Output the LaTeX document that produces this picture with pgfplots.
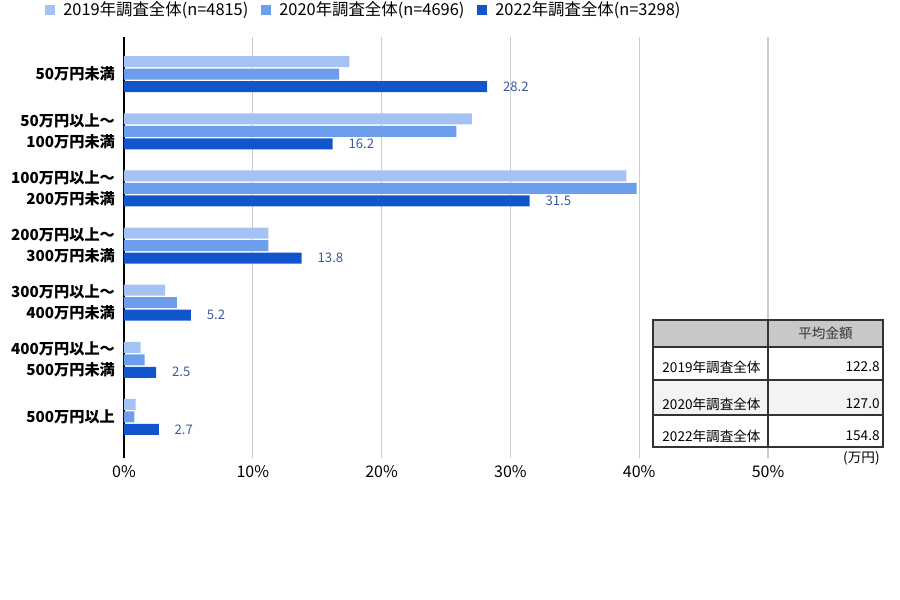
\documentclass[border=0pt]{standalone}
\usepackage{fontspec}
\setmainfont{Noto Sans CJK JP}
\usepackage{pgfplots}
\usepackage{pgfplotstable}
\pgfplotsset{compat=1.18}

\definecolor{c19}{HTML}{A4C2F4}
\definecolor{c20}{HTML}{6D9EEB}
\definecolor{c22}{HTML}{1155CC}
\definecolor{lbl}{HTML}{3D5A9E}
\definecolor{gridc}{HTML}{CCCCCC}
\definecolor{hdr}{HTML}{C8C8C8}
\definecolor{rowg}{HTML}{F3F3F3}

% share of respondents (%), categories top to bottom
\pgfplotstableread{
cat y2019 y2020 y2022
0 17.5 16.7 28.2
1 27.0 25.8 16.2
2 39.0 39.8 31.5
3 11.2 11.2 13.8
4 3.2 4.1 5.2
5 1.3 1.6 2.5
6 0.9 0.8 2.7
}\data

\begin{document}
\begin{tikzpicture}
\path[use as bounding box] (0,0) rectangle (450pt,300pt);
\begin{axis}[
    at={(62pt,71pt)}, anchor=south west,
    scale only axis, width=322pt, height=210.5pt,
    xbar, bar width=5.5pt,
    y dir=reverse,
    xmin=0, xmax=50, ymin=-0.65, ymax=6.72,
    ytick={0,...,6},
    yticklabels={50万円未満, {50万円以上～\\100万円未満}, {100万円以上～\\200万円未満},
        {200万円以上～\\300万円未満}, {300万円以上～\\400万円未満},
        {400万円以上～\\500万円未満}, 500万円以上},
    yticklabel style={align=right, xshift=-1pt, font=\bfseries\fontsize{7.6}{10.5}\selectfont},
    xtick={0,10,...,50},
    xticklabel={\pgfmathprintnumber{\tick}\%},
    xticklabel style={font=\fontsize{8}{10}\selectfont},
    /pgf/number format/assume math mode=true,
    xmajorgrids, grid style={gridc, line width=0.6pt},
    extra x ticks={0}, extra x tick labels={},
    extra x tick style={grid style={black, line width=0.6pt}},
    axis line style={draw=none},
    major tick length=0pt,
    legend style={at={(-0.1227,1.064)}, anchor=west, draw=none, fill=none,
        inner sep=0pt, font=\fontsize{8.2}{10}\selectfont,
        /tikz/every even column/.append style={column sep=4.5pt}},
    legend columns=3,
    legend image code/.code={\fill[#1] (0pt,-2.5pt) rectangle (5pt,2.5pt); \path (7pt,0pt);},
]
\addplot[fill=c19, draw=none, bar shift=6.25pt] table[x=y2019, y=cat] {\data};
\addplot[fill=c20, draw=none, bar shift=0pt] table[x=y2020, y=cat] {\data};
\addplot[fill=c22, draw=none, bar shift=-6.25pt, point meta=x,
    nodes near coords={\pgfmathprintnumber[fixed,fixed zerofill,precision=1]{\pgfplotspointmeta}},
    every node near coord/.append style={font=\fontsize{6.6}{8}\selectfont, text=lbl, xshift=4.4pt}]
    table[x=y2022, y=cat] {\data};
\legend{2019年調査全体(n=4815), 2020年調査全体(n=4696), 2022年調査全体(n=3298)}
\end{axis}

% average amount table
\fill[white] (326.5pt,76.5pt) rectangle (441.5pt,140pt);
\fill[hdr] (326.5pt,126.5pt) rectangle (441.5pt,140pt);
\fill[rowg] (326.5pt,92.5pt) rectangle (441.5pt,110pt);
\draw[line width=0.6pt, black!80] (326.5pt,76.5pt) rectangle (441.5pt,140pt);
\draw[line width=0.6pt, black!80] (326.5pt,126.5pt) -- (441.5pt,126.5pt)
    (326.5pt,110pt) -- (441.5pt,110pt)
    (326.5pt,92.5pt) -- (441.5pt,92.5pt)
    (384pt,76.5pt) -- (384pt,140pt);
\begin{scope}[every node/.style={font=\fontsize{6.8}{8}\selectfont, inner sep=0pt}]
\node[text=black!80] at (412.75pt,133.25pt) {平均金額};
\node[anchor=west] at (331pt,116.5pt) {2019年調査全体};
\node[anchor=east] at (440pt,116.5pt) {122.8};
\node[anchor=west] at (331pt,98pt) {2020年調査全体};
\node[anchor=east] at (440pt,98pt) {127.0};
\node[anchor=west] at (331pt,82pt) {2022年調査全体};
\node[anchor=east] at (440pt,82pt) {154.8};
\node[anchor=east] at (440pt,71pt) {(万円)};
\end{scope}
\end{tikzpicture}
\end{document}
